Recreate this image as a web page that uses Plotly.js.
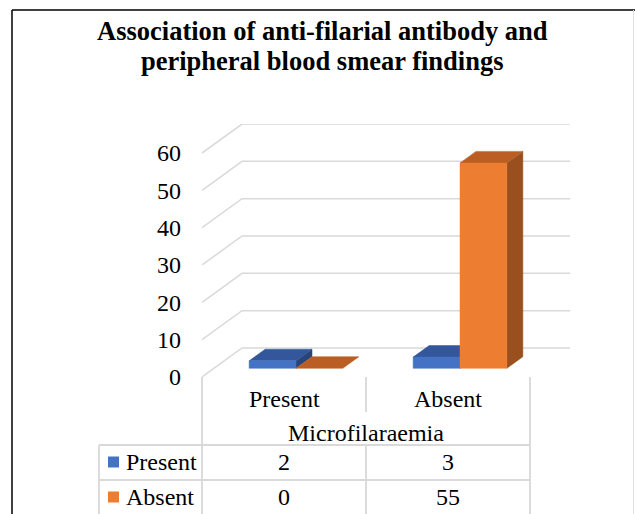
<!DOCTYPE html>
<html>
<head>
<meta charset="utf-8">
<script src="https://cdn.plot.ly/plotly-3.0.1.min.js"></script>
<style>
html,body{margin:0;padding:0;background:#fff;}
#chart{width:635px;height:514px;}
</style>
</head>
<body>
<div id="chart"></div>
<script>
// ---- data ----
var titleLines = ['Association of anti-filarial antibody and', 'peripheral blood smear findings'];
var categories = ['Present', 'Absent'];          // Microfilaraemia
var axisTitle = 'Microfilaraemia';
var seriesNames = ['Present', 'Absent'];         // anti-filarial antibody
var presentValues = [2, 3];
var absentValues = [0, 55];
var yTicks = [0, 10, 20, 30, 40, 50, 60];

// ---- style / layout constants ----
var seriesValues = [presentValues, absentValues];
var frontColors = ['#4472C4', '#ED7D31'];
var topColors = ['#33579A', '#BA5E23'];
var sideColors = ['#284478', '#9A501E'];
var gridColor = '#D9D9D9';
var font = 'Liberation Serif, Times New Roman, serif';

var W = 635, H = 514;
var plotL = 202, plotR = 570, plotT = 124, plotB = 377;
var catPx = 164;                       // width of one category on the front plane
var pxPerUnit = 3.733;                 // pixels per value unit
var depthPxX = 40, depthPxY = 29;      // floor depth offset in pixels
var xMax = (plotR - plotL) / catPx;
var yMax = (plotB - plotT) / pxPerUnit;
var dX = depthPxX / catPx, dY = depthPxY / pxPerUnit;
var barW = 1 / 3.5, gapL = 0.75 * barW;     // gap width 150%
var frontDepth = 0.3, barDepth = 0.4;

function paperX(px) { return (px - plotL) / (plotR - plotL); }
function paperY(py) { return (plotB - py) / (plotB - plotT); }

var traces = [];

// gridlines (left wall diagonal + back wall horizontal)
var gx = [], gy = [];
yTicks.forEach(function (v) {
  gx.push(0, dX, xMax, null);
  gy.push(v, v + dY, v + dY, null);
});
traces.push({type: 'scatter', mode: 'lines', x: gx, y: gy, line: {color: gridColor, width: 1.5},
  hoverinfo: 'skip', showlegend: false, cliponaxis: false});

function poly(xs, ys, color) {
  traces.push({type: 'scatter', mode: 'lines', x: xs.concat([xs[0]]), y: ys.concat([ys[0]]), fill: 'toself',
    fillcolor: color, line: {color: color, width: 0.5}, hoverinfo: 'skip', showlegend: false, cliponaxis: false});
}

categories.forEach(function (cat, i) {
  seriesValues.forEach(function (vals, s) {
    var h = vals[i];
    var ox = frontDepth * dX, oy = frontDepth * dY;
    var bx = barDepth * dX, by = barDepth * dY;
    var x0 = i + gapL + s * barW + ox, x1 = x0 + barW;
    var y0 = oy, y1 = oy + h;
    if (h > 0) poly([x1, x1 + bx, x1 + bx, x1], [y0, y0 + by, y1 + by, y1], sideColors[s]);
    poly([x0, x1, x1 + bx, x0 + bx], [y1, y1, y1 + by, y1 + by], topColors[s]);
    if (h > 0) poly([x0, x1, x1, x0], [y0, y0, y1, y1], frontColors[s]);
  });
});

// ---- table & frame ----
var shapes = [];
var annotations = [];
function line(x0, y0, x1, y1, color, width) {
  shapes.push({type: 'line', xref: 'paper', yref: 'paper', x0: paperX(x0), y0: paperY(y0), x1: paperX(x1), y1: paperY(y1),
    line: {color: color, width: width}});
}
function text(t, px, py, anchor, size, bold) {
  annotations.push({text: t, xref: 'paper', yref: 'paper', x: paperX(px), y: paperY(py), xanchor: anchor, yanchor: 'middle',
    showarrow: false, font: {family: font, size: size || 24, color: '#000', weight: bold ? 'bold' : 'normal'}});
}
var tblLeft = 99, rowTop = 445, rowMid = 480, tblBottom = H + 2;
var catEdges = [0, 1, 2].map(function (k) { return plotL + k * catPx; });
// verticals
line(catEdges[0], plotB, catEdges[0], tblBottom, gridColor, 1.8);
line(catEdges[1], plotB, catEdges[1], 412, gridColor, 1.8);
line(catEdges[1], rowTop, catEdges[1], tblBottom, gridColor, 1.8);
line(catEdges[2], plotB, catEdges[2], tblBottom, gridColor, 1.8);
line(tblLeft, rowTop, tblLeft, tblBottom, gridColor, 1.8);
// horizontals
line(tblLeft, rowTop, catEdges[2], rowTop, gridColor, 1.8);
line(tblLeft, rowMid, catEdges[2], rowMid, gridColor, 1.8);

// title
text(titleLines[0], 322, 31, 'center', 26.5, true);
text(titleLines[1], 322, 61, 'center', 26.5, true);

// header labels
categories.forEach(function (c, i) { text(c, plotL + (i + 0.5) * catPx, 399, 'center'); });
text(axisTitle, catEdges[1], 433, 'center');
// rows
var rowY = [462, 497];
seriesNames.forEach(function (name, s) {
  shapes.push({type: 'rect', xref: 'paper', yref: 'paper', x0: paperX(108), x1: paperX(119),
    y0: paperY(rowY[s] - 5.5), y1: paperY(rowY[s] + 5.5), line: {width: 0}, fillcolor: frontColors[s]});
  text(name, 124, rowY[s], 'left');
  seriesValues[s].forEach(function (v, i) { text(String(v), plotL + (i + 0.5) * catPx, rowY[s], 'center'); });
});

// outer frame
line(12, 10, W + 2, 10, '#000', 1.5);
line(12, 10, 12, H + 2, '#000', 1.5);
line(633.5, 10, 633.5, H + 2, '#E0E0E0', 1);

var layout = {
  width: W, height: H,
  margin: {l: plotL, r: W - plotR, t: plotT, b: H - plotB, pad: 0},
  paper_bgcolor: '#fff', plot_bgcolor: 'rgba(0,0,0,0)',
  showlegend: false,
  xaxis: {range: [0, xMax], visible: false, fixedrange: true},
  yaxis: {range: [0, yMax], tickvals: yTicks, ticktext: yTicks.map(String), showgrid: false, zeroline: false,
    showline: false, ticks: '', ticklabelstandoff: 20, tickfont: {family: font, size: 24, color: '#000'}, fixedrange: true},
  shapes: shapes,
  annotations: annotations
};
Plotly.newPlot('chart', traces, layout, {staticPlot: true, displayModeBar: false});
</script>
</body>
</html>
